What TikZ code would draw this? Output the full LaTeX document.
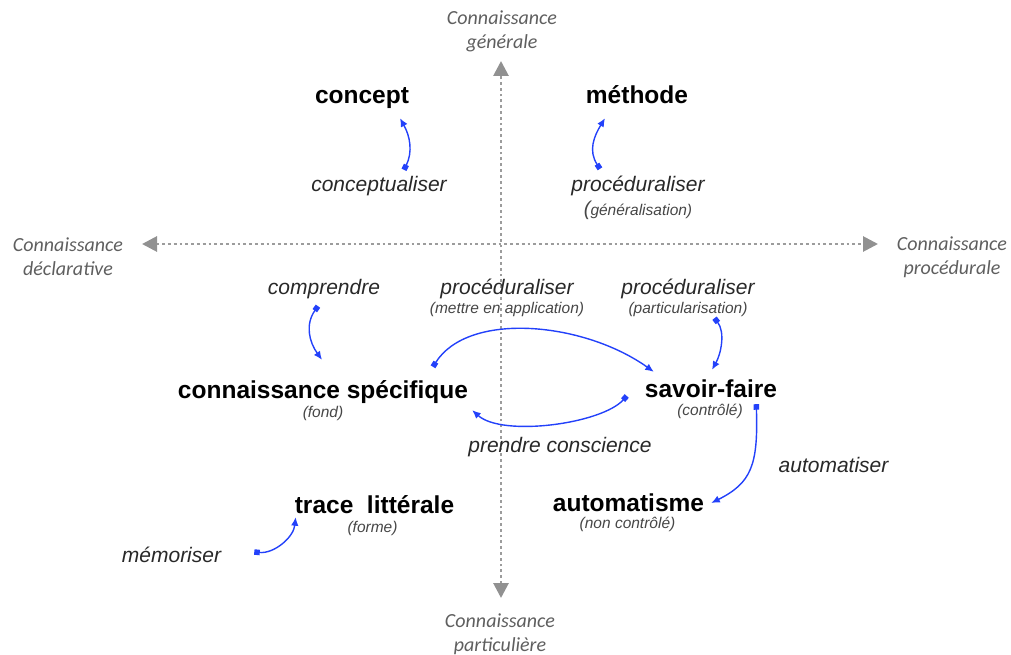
\documentclass[tikz,border=0pt]{standalone}
\usepackage{fontspec}
\setmainfont{Liberation Sans}
\newfontfamily\polefont{Carlito}
\usetikzlibrary{arrows.meta}
\usetikzlibrary{positioning}
\usetikzlibrary{calc}

\definecolor{linkblue}{RGB}{35,65,250}
\definecolor{axisgray}{RGB}{145,145,145}
\definecolor{verbgray}{RGB}{40,40,40}
\definecolor{notegray}{RGB}{70,70,70}
\definecolor{polegray}{RGB}{95,95,95}

\begin{document}
\begin{tikzpicture}[
			x = 1pt, y = -1pt,
			term/.style = {
				font = \bfseries\fontsize{24.5}{27}\selectfont,
				text height = 17pt, text depth = 5pt, inner sep = 0, anchor = base,
			},
			verb/.style = {
				font = \itshape\fontsize{21}{24}\selectfont, text = verbgray,
				text height = 15pt, text depth = 4pt, inner sep = 0, anchor = base,
			},
			note/.style = {
				font = \itshape\fontsize{15.5}{17}\selectfont, text = notegray,
				text height = 11pt, text depth = 3pt, inner sep = 0, anchor = base,
			},
			pole/.style = {
				font = \polefont\itshape\fontsize{20}{24}\selectfont, text = polegray,
				align = center, inner sep = 0,
			},
			axis/.style = {
				line width = 2.8pt, draw = axisgray!90, dash pattern = on 2.8pt off 3pt,
				{Triangle[length=15pt, width=15pt, fill=axisgray, color=axisgray]}-{Triangle[length=15pt, width=15pt, fill=axisgray, color=axisgray]},
			},
			link/.style = {
				line width = 1.4pt, draw = linkblue,
				{Square[length=5.5pt, width=5.5pt]}-{Latex[length=8.5pt, width=7.5pt]},
			},
		]

		\useasboundingbox (0,0) rectangle (1011,655);

		% axes
		\node[pole] (general) at (502,31.5) {Connaissance\\générale};
		\node[pole] (particular) at (500,634) {Connaissance\\particulière};
		\node[pole] (declarative) at (68,257) {Connaissance\\déclarative};
		\node[pole] (procedural) at (952,257) {Connaissance\\procédurale};
		\coordinate (axN) at (501,61);
		\coordinate (axS) at (501,598);
		\coordinate (axW) at (142,244);
		\coordinate (axE) at (878,244);
		\draw[axis] (axS) -- (axN);
		\draw[axis] (axW) -- (axE);

		% knowledge
		\node[term] (concept) at (362,104) {concept};
		\node[term] (methode) at (637,104) {méthode};
		\node[term] (spec) at (323,398) {connaissance spécifique};
		\node[term] (savoir) at (711,397) {savoir-faire};
		\node[term] (auto) at (628.5,511) {automatisme};
		\node[term] (trace) at (374.5,513) {trace\ \ littérale};

		\node[note] (fond) at ($(spec.base)+(0,19)$) {(fond)};
		\node[note] (controle) at ($(savoir.base)+(-1,18)$) {(contrôlé)};
		\node[note] (noncontrole) at ($(auto.base)+(-1,17)$) {(non contrôlé)};
		\node[note] (forme) at ($(trace.base)+(-2,19)$) {(forme)};

		% processes
		\node[verb] (conceptualiser) at (379,192) {conceptualiser};
		\node[verb] (generaliser) at (638,192) {procéduraliser};
		\node[note] (generalisation) at ($(generaliser.base)+(0,23)$)
			{{\fontsize{20}{20}\selectfont(}généralisation)};
		\node[verb] (comprendre) at (324,294) {comprendre};
		\node[verb] (appliquer) at (507,294) {procéduraliser};
		\node[note] (application) at ($(appliquer.base)+(0,19)$) {(mettre en application)};
		\node[verb] (particulariser) at (688,294) {procéduraliser};
		\node[note] (particularisation) at ($(particulariser.base)+(0,19)$) {(particularisation)};
		\node[verb] (conscience) at (560,452) {prendre conscience};
		\node[verb] (automatiser) at (833.5,472) {automatiser};
		\node[verb] (memoriser) at (171.5,562) {mémoriser};

		\draw[link] ($(conceptualiser.north)+(25,-7)$)
			.. controls +(9,-18) and +(10,18) .. ($(concept.south)+(38,9)$);
		\draw[link] ($(generaliser.north)+(-38,-8)$)
			.. controls +(-12,-18) and +(-11,18) .. ($(methode.south)+(-32,9)$);
		\draw[link] ($(comprendre.south)+(-6,8)$)
			.. controls +(-13,18) and +(-13,-18) .. ($(spec.north)+(-1,-21)$);
		\draw[link] ($(spec.north)+(110,-14)$)
			.. controls +(35,-56) and +(-70,-50) .. ($(savoir.north west)+(9,-8)$);
		\draw[link] ($(particularisation.south)+(26.5,2)$)
			.. controls +(11,14) and +(9,-16) .. ($(savoir.north)+(1,-10)$);
		\draw[link] ($(savoir.west)+(-18,5)$)
			.. controls +(-25,28) and +(30,27) .. ($(spec.south east)+(4,7)$);
		\draw[link] ($(savoir.south east)+(-21,2)$)
			.. controls +(2,61) and +(40,-20) .. ($(auto.east)+(7,-2)$);
		\draw[link] ($(memoriser.east)+(33,-4.5)$)
			.. controls +(20,2) and +(-2,20) .. ($(trace.south west)+(1,-1)$);

	\end{tikzpicture}
\end{document}
